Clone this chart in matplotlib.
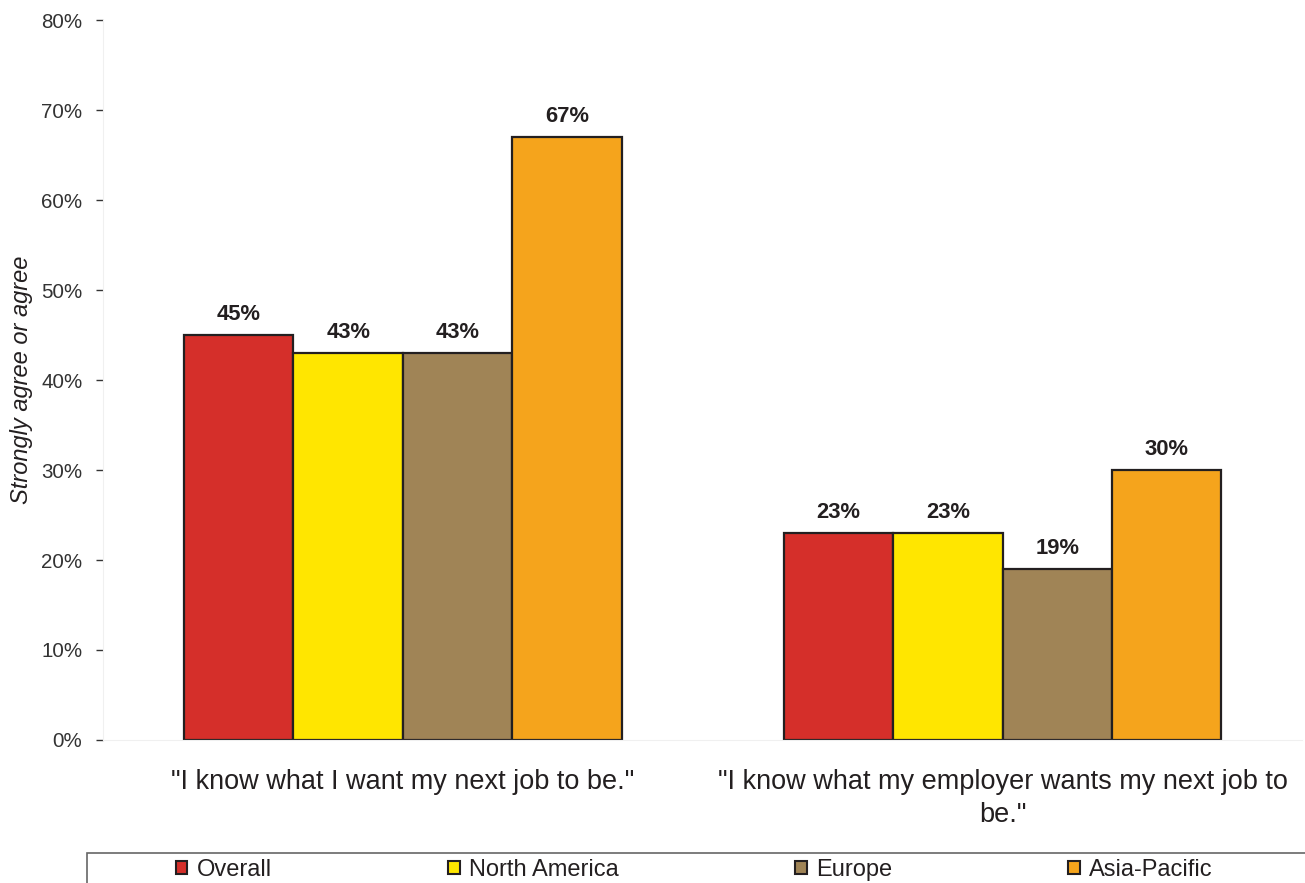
import matplotlib.pyplot as plt
import numpy as np
from matplotlib.patches import Patch, Rectangle

plt.rcParams['font.family'] = ['Liberation Sans', 'DejaVu Sans']

statements = ['"I know what I want my next job to be."',
              '"I know what my employer wants my next job to\nbe."']
regions = ['Overall', 'North America', 'Europe', 'Asia-Pacific']
overall = [45, 23]
north_america = [43, 23]
europe = [43, 19]
asia_pacific = [67, 30]
colors = ['#D52F2A', '#FFE600', '#A08456', '#F5A41C']
yticks = [0, 10, 20, 30, 40, 50, 60, 70, 80]

EDGE = '#231F20'


def main():
    fig = plt.figure(figsize=(13.05, 8.83), dpi=100)
    ax = fig.add_axes([0.079, 0.162, 0.919, 0.815])

    series = [overall, north_america, europe, asia_pacific]
    x = np.arange(len(statements))
    width = 0.73 / 4
    for i, (vals, col) in enumerate(zip(series, colors)):
        pos = x + (i - 1.5) * width
        ax.bar(pos, vals, width, color=col, edgecolor=EDGE, linewidth=1.6)
        for p, v in zip(pos, vals):
            ax.text(p, v + 1.1, f'{v}%', ha='center', va='bottom',
                    fontsize=15.8, fontweight='bold', color='#231F20')

    ax.set_xlim(-0.5, 1.5)
    ax.set_ylim(0, 80)
    ax.set_yticks(yticks)
    ax.set_yticklabels([f'{t}%' for t in yticks])
    ax.tick_params(axis='y', direction='out', length=5, width=1,
                   pad=10, labelsize=14.8, labelcolor='#333333',
                   color='#333333')
    ax.set_xticks(x)
    ax.set_xticklabels(statements, fontsize=19.5, color='#231F20',
                       linespacing=1.32)
    ax.tick_params(axis='x', length=0, pad=21)
    for s in ['top', 'right']:
        ax.spines[s].set_visible(False)
    for s in ['left', 'bottom']:
        ax.spines[s].set_color('#f0f0f0')
    ax.set_ylabel('Strongly agree or agree', fontsize=17, fontstyle='italic',
                  color='#231F20', labelpad=6)

    # legend frame runs off the bottom and right of the figure
    fig.patches.append(Rectangle((87 / 1305, -0.1), 1.0, 0.1 + 30 / 883,
                                 transform=fig.transFigure, fill=False,
                                 edgecolor='#666666', linewidth=1.2))
    handles = [Patch(facecolor=c, edgecolor=EDGE, linewidth=1.5) for c in colors]
    fig.legend(handles, regions, loc='center', ncol=4,
               bbox_to_anchor=(0.532, 13 / 883), frameon=False, fontsize=17,
               handlelength=0.5, handleheight=0.5, handletextpad=0.4,
               columnspacing=7.45, borderpad=0, labelcolor='#231F20')

    fig.savefig('out.png', dpi=100)


if __name__ == "__main__":
    main()
